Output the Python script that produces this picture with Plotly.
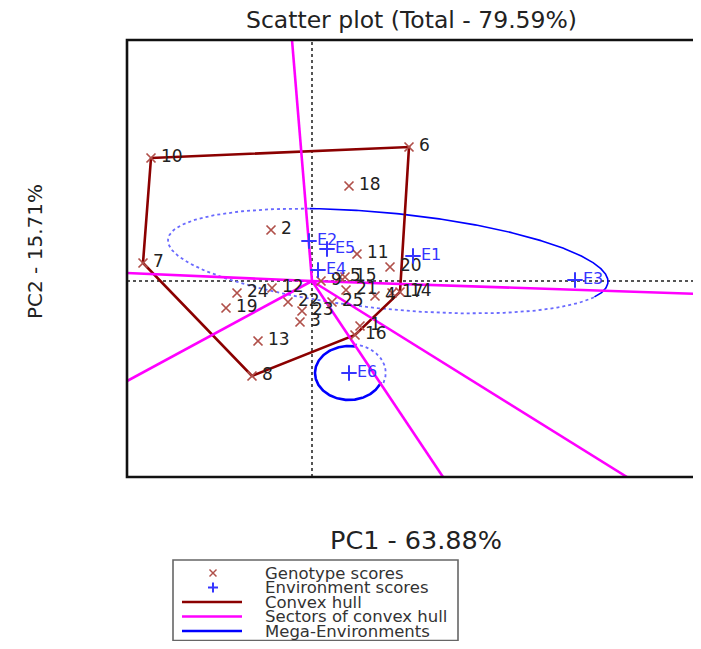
import numpy as np
import plotly.graph_objects as go

# ---------------- data ----------------
gen_labels = [str(i) for i in range(1, 26)]
gen_x = [0.48, -0.41, -0.12, 0.63, 0.28, 0.97, -1.69, -0.60, 0.09, -1.61,
         0.45, -0.40, -0.54, 0.88, 0.33, 0.43, 0.80, 0.37, -0.86, 0.78,
         0.34, -0.24, -0.10, -0.75, 0.20]
gen_y = [-0.45, 0.51, -0.41, -0.15, 0.04, 1.34, 0.18, -0.95, 0.00, 1.23,
         0.27, -0.07, -0.60, -0.11, 0.04, -0.54, -0.12, 0.95, -0.27, 0.14,
         -0.09, -0.21, -0.30, -0.12, -0.21]

env_labels = ["E1", "E2", "E3", "E4", "E5", "E6"]
env_x = [1.01, -0.03, 2.63, 0.06, 0.15, 0.37]
env_y = [0.25, 0.40, 0.01, 0.11, 0.32, -0.92]

hull_order = ["10", "6", "14", "16", "8", "7", "10"]

sector_end_x = [-0.20, -1.85, -1.85, 1.31, 3.15, 3.89]
sector_end_y = [2.41, 0.08, -1.00, -1.96, -1.96, -0.13]

# mega-environment ellipses: centre, semi-axes, tilt (deg), solid arc (deg)
ell_big = dict(cx=0.76, cy=0.20, a=2.21, b=0.48, tilt=-5.6, solid=(-19, 112))
ell_small = dict(cx=0.37, cy=-0.92, a=0.34, b=0.27, tilt=0.0, solid=(80, 340))

title = "Scatter plot (Total - 79.59%)"
xlab = "PC1 - 63.88%"
ylab = "PC2 - 15.71%"
legend_items = ["Genotype scores", "Environment scores", "Convex hull",
                "Sectors of convex hull", "Mega-Environments"]

# ---------------- styling ----------------
FONT = "DejaVu Sans, Liberation Sans, sans-serif"
GEN_COL = "#b0504a"
ENV_COL = "#3535ff"
HULL_COL = "#8b0000"
SECT_COL = "#ff00ff"
MEGA_COL = "#0000ff"

OFF = 8                      # page body margin
W, H = 701 - 2 * OFF, 649 - 2 * OFF
ML, MR, MT = 127 - OFF, 0, 40 - OFF
MB = H - (477 - OFF)
PW, PH = W - ML - MR, H - MT - MB
XR = [-1.85, -1.85 + PW / 100]
YR = [-1.96, -1.96 + PH / 100]


def px(xp, yp):
    """reference-picture pixel -> paper coordinates"""
    xf, yf = xp - OFF, yp - OFF
    return (xf - ML) / PW, (H - MB - yf) / PH


def ellipse_pts(e, t0, t1, scale=1.0):
    t = np.radians(np.linspace(t0, t1, 200))
    th = np.radians(e["tilt"])
    a, b = e["a"] * scale, e["b"] * scale
    x = e["cx"] + a * np.cos(t) * np.cos(th) - b * np.sin(t) * np.sin(th)
    y = e["cy"] + a * np.cos(t) * np.sin(th) + b * np.sin(t) * np.cos(th)
    return x, y


fig = go.Figure()

# dotted axes through origin
fig.add_trace(go.Scatter(x=XR, y=[0, 0], mode="lines",
                         line=dict(color="#555", width=2, dash="dot"),
                         hoverinfo="skip", showlegend=False))
fig.add_trace(go.Scatter(x=[0, 0], y=YR, mode="lines",
                         line=dict(color="#555", width=2, dash="dot"),
                         hoverinfo="skip", showlegend=False))

# mega-environment ellipses
for e, w, sc in [(ell_big, 1.6, 1.0), (ell_small, 2.6, 1.08)]:
    s0, s1 = e["solid"]
    xs, ys = ellipse_pts(e, s0, s1)
    fig.add_trace(go.Scatter(x=xs, y=ys, mode="lines",
                             line=dict(color=MEGA_COL, width=w),
                             hoverinfo="skip", showlegend=False))
    xd, yd = ellipse_pts(e, s1, s0 + 360, sc)
    fig.add_trace(go.Scatter(x=xd, y=yd, mode="lines",
                             line=dict(color="#6a6aff", width=1.8, dash="dot"),
                             hoverinfo="skip", showlegend=False))

# convex hull
idx = {l: i for i, l in enumerate(gen_labels)}
hx = [gen_x[idx[l]] for l in hull_order]
hy = [gen_y[idx[l]] for l in hull_order]
fig.add_trace(go.Scatter(x=hx, y=hy, mode="lines",
                         line=dict(color=HULL_COL, width=2.6),
                         hoverinfo="skip", showlegend=False))

# sectors
for ex, ey in zip(sector_end_x, sector_end_y):
    fig.add_trace(go.Scatter(x=[0, ex], y=[0, ey], mode="lines",
                             line=dict(color=SECT_COL, width=2.6),
                             hoverinfo="skip", showlegend=False))

# genotypes
fig.add_trace(go.Scatter(x=gen_x, y=gen_y, mode="markers+text",
                         text=["\u2009" + l for l in gen_labels],
                         textposition="middle right",
                         textfont=dict(family=FONT, size=17, color="#222"),
                         marker=dict(symbol="x-thin", size=9,
                                     line=dict(color=GEN_COL, width=1.7)),
                         showlegend=False))
# environments
fig.add_trace(go.Scatter(x=env_x, y=env_y, mode="markers+text",
                         text=env_labels, textposition="middle right",
                         textfont=dict(family=FONT, size=16, color=ENV_COL),
                         marker=dict(symbol="cross-thin", size=11,
                                     line=dict(color=ENV_COL, width=2)),
                         showlegend=False))

shapes = []
annotations = []
# plot frame (right side runs off the picture, as in the reference)
shapes.append(dict(type="rect", xref="paper", yref="paper", x0=0, x1=1.03,
                   y0=0, y1=1, line=dict(color="#111", width=2.6)))

# legend box
x0, y0 = px(173, 560)
x1, y1 = px(458, 640.5)
shapes.append(dict(type="rect", xref="paper", yref="paper", x0=x0, x1=x1,
                   y0=y1, y1=y0, line=dict(color="#666", width=1.6),
                   fillcolor="white"))
rows = [573, 587.5, 602, 616.5, 631]
# legend symbols
d = 3.5
for (a, b, c, e_) in [(-d, -d, d, d), (-d, d, d, -d)]:
    p0 = px(213 + a, rows[0] + b)
    p1 = px(213 + c, rows[0] + e_)
    shapes.append(dict(type="line", xref="paper", yref="paper",
                       x0=p0[0], y0=p0[1], x1=p1[0], y1=p1[1],
                       line=dict(color=GEN_COL, width=1.5)))
d = 5
for (a, b, c, e_) in [(-d, 0, d, 0), (0, -d, 0, d)]:
    p0 = px(213 + a, rows[1] + b)
    p1 = px(213 + c, rows[1] + e_)
    shapes.append(dict(type="line", xref="paper", yref="paper",
                       x0=p0[0], y0=p0[1], x1=p1[0], y1=p1[1],
                       line=dict(color=ENV_COL, width=2)))
for r, col in zip(rows[2:], [HULL_COL, SECT_COL, MEGA_COL]):
    p0 = px(182, r)
    p1 = px(242, r)
    shapes.append(dict(type="line", xref="paper", yref="paper",
                       x0=p0[0], y0=p0[1], x1=p1[0], y1=p1[1],
                       line=dict(color=col, width=2.6)))
for r, t in zip(rows, legend_items):
    p = px(263, r)
    annotations.append(dict(xref="paper", yref="paper", x=p[0], y=p[1],
                            text=t, showarrow=False, xanchor="left",
                            yanchor="middle",
                            font=dict(family=FONT, size=16.5, color="#333")))

# titles
p = px(411, 19.5)
annotations.append(dict(xref="paper", yref="paper", x=p[0], y=p[1], text=title,
                        showarrow=False, xanchor="center", yanchor="middle",
                        font=dict(family=FONT, size=23.5, color="#222")))
p = px(416, 540)
annotations.append(dict(xref="paper", yref="paper", x=p[0], y=p[1], text=xlab,
                        showarrow=False, xanchor="center", yanchor="middle",
                        font=dict(family=FONT, size=25.5, color="#222")))
p = px(35, 252)
annotations.append(dict(xref="paper", yref="paper", x=p[0], y=p[1], text=ylab,
                        showarrow=False, xanchor="center", yanchor="middle",
                        textangle=-90,
                        font=dict(family=FONT, size=20, color="#222")))

fig.update_layout(
    width=W, height=H, margin=dict(l=ML, r=MR, t=MT, b=MB),
    paper_bgcolor="white", plot_bgcolor="white",
    xaxis=dict(range=XR, showgrid=False, zeroline=False, showticklabels=False,
               ticks="", showline=False, fixedrange=True),
    yaxis=dict(range=YR, showgrid=False, zeroline=False, showticklabels=False,
               ticks="", showline=False, fixedrange=True),
    shapes=shapes, annotations=annotations, showlegend=False,
)

fig.write_html("out.html")
